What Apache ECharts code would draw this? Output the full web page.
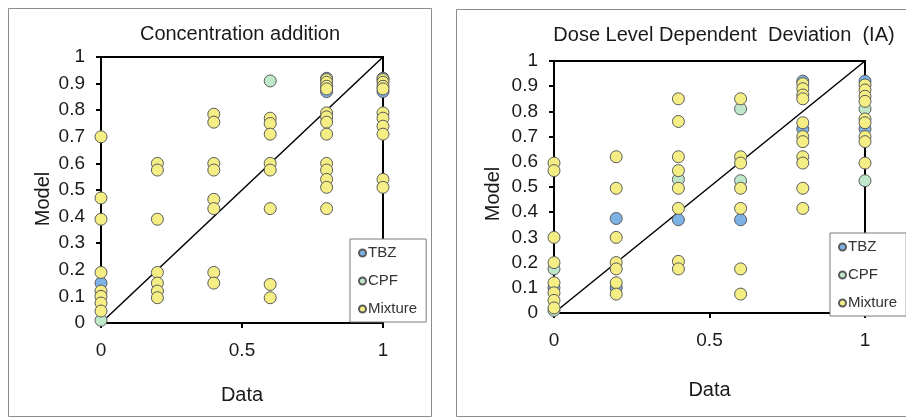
<!DOCTYPE html>
<html>
<head>
<meta charset="utf-8">
<script src="https://cdn.jsdelivr.net/npm/echarts@6/dist/echarts.min.js"></script>
<style>
  html, body { margin: 0; padding: 0; background: #fff; }
  #chart { width: 906px; height: 419px; }
</style>
</head>
<body>
<div id="chart"></div>
<script>
// --- data: [Data, Model] pairs ---
const seriesNames = ['TBZ', 'CPF', 'Mixture']
const xTicks = [0, 0.5, 1]

// Concentration addition (left panel)
const caTBZ = [[0, 0.15], [0.8, 0.92], [0.8, 0.87], [1, 0.92], [1, 0.87]]
const caCPF = [[0, 0.01], [0.6, 0.91]]
const caMixture = [
  [0, 0.70], [0, 0.47], [0, 0.39], [0, 0.19], [0, 0.12], [0, 0.10], [0, 0.075], [0, 0.045],
  [0.2, 0.60], [0.2, 0.575], [0.2, 0.39], [0.2, 0.19], [0.2, 0.15], [0.2, 0.12], [0.2, 0.095],
  [0.4, 0.785], [0.4, 0.755], [0.4, 0.60], [0.4, 0.575], [0.4, 0.465], [0.4, 0.43], [0.4, 0.19], [0.4, 0.15],
  [0.6, 0.77], [0.6, 0.75], [0.6, 0.71], [0.6, 0.60], [0.6, 0.575], [0.6, 0.43], [0.6, 0.145], [0.6, 0.095],
  [0.8, 0.915], [0.8, 0.905], [0.8, 0.89], [0.8, 0.88], [0.8, 0.79], [0.8, 0.775], [0.8, 0.755], [0.8, 0.71],
  [0.8, 0.60], [0.8, 0.575], [0.8, 0.54], [0.8, 0.51], [0.8, 0.43],
  [1, 0.915], [1, 0.905], [1, 0.89], [1, 0.88], [1, 0.79], [1, 0.77], [1, 0.74], [1, 0.71], [1, 0.54], [1, 0.51]
]

// Dose level dependent deviation (IA) (right panel)
const dlTBZ = [[0, 0.10], [0.2, 0.375], [0.2, 0.10], [0.4, 0.37], [0.6, 0.37], [0.8, 0.73], [0.8, 0.92], [1, 0.73], [1, 0.92]]
const dlCPF = [[0, 0.175], [0, 0.01], [0.4, 0.53], [0.6, 0.81], [0.6, 0.525], [1, 0.81], [1, 0.525]]
const dlMixture = [
  [0, 0.595], [0, 0.565], [0, 0.30], [0, 0.20], [0, 0.12], [0, 0.08], [0, 0.05], [0, 0.02],
  [0.2, 0.62], [0.2, 0.495], [0.2, 0.30], [0.2, 0.20], [0.2, 0.175], [0.2, 0.12], [0.2, 0.075],
  [0.4, 0.85], [0.4, 0.76], [0.4, 0.62], [0.4, 0.565], [0.4, 0.495], [0.4, 0.415], [0.4, 0.205], [0.4, 0.175],
  [0.6, 0.85], [0.6, 0.62], [0.6, 0.595], [0.6, 0.495], [0.6, 0.415], [0.6, 0.175], [0.6, 0.075],
  [0.8, 0.91], [0.8, 0.89], [0.8, 0.865], [0.8, 0.85], [0.8, 0.755], [0.8, 0.70], [0.8, 0.68],
  [0.8, 0.62], [0.8, 0.595], [0.8, 0.495], [0.8, 0.415],
  [1, 0.905], [1, 0.885], [1, 0.86], [1, 0.84], [1, 0.77], [1, 0.755], [1, 0.70], [1, 0.68], [1, 0.595]
]

const identity = [[0, 0], [1, 1]]

const FONT = '"Liberation Sans", Arial, sans-serif'
const TEXT = '#1a1a1a'
const colors = { TBZ: '#7db2e6', CPF: '#bfe8cb', Mixture: '#f4ee85' }

const chart = echarts.init(document.getElementById('chart'))

function xAxis(gridIndex, nameGap) {
  return {
    type: 'value', gridIndex, min: 0, max: 1, interval: 0.5,
    name: 'Data', nameLocation: 'middle', nameGap,
    nameTextStyle: { fontFamily: FONT, fontSize: 20, color: TEXT },
    axisLine: { lineStyle: { color: '#000', width: 2 } },
    axisTick: { length: 5, lineStyle: { color: '#000', width: 2 } },
    axisLabel: { margin: 18, fontFamily: FONT, fontSize: 19, color: TEXT,
      customValues: xTicks },
    splitLine: { show: false }
  }
}

function yAxis(gridIndex) {
  return {
    type: 'value', gridIndex, min: 0, max: 1, interval: 0.1,
    axisLine: { show: true, lineStyle: { color: '#000', width: 2 } },
    axisTick: { show: true, length: 5, lineStyle: { color: '#000', width: 2 } },
    axisLabel: { margin: 16, fontFamily: FONT, fontSize: 19, color: TEXT },
    splitLine: { show: false }
  }
}

function scatter(name, data, idx) {
  return {
    name, type: 'scatter', data, xAxisIndex: idx, yAxisIndex: idx,
    symbol: 'circle', symbolSize: 12,
    itemStyle: { color: colors[name], borderColor: '#5a5a5a', borderWidth: 1, opacity: 1 },
    emphasis: { disabled: true }
  }
}

function diagonal(idx) {
  return {
    type: 'line', data: identity, xAxisIndex: idx, yAxisIndex: idx,
    showSymbol: false, silent: true, z: 1,
    lineStyle: { color: '#000', width: 1.5 }
  }
}

function legend(left, top) {
  return {
    data: seriesNames, orient: 'vertical', left, top,
    backgroundColor: '#fff', borderColor: '#7a7a7a', borderWidth: 1,
    padding: [6, 9, 5, 8], itemWidth: 7, itemHeight: 7, itemGap: 12,
    icon: 'circle', selectedMode: false,
    textStyle: { fontFamily: FONT, fontSize: 15, lineHeight: 16, color: '#333', padding: [0, 0, 0, -3] }
  }
}

chart.setOption({
  animation: false,
  title: [
    { text: 'Concentration addition', left: 240, top: 24, textAlign: 'center', padding: 0,
      textStyle: { fontFamily: FONT, fontSize: 20, fontWeight: 'normal', color: TEXT } },
    { text: 'Dose Level Dependent  Deviation  (IA)', left: 724, top: 25, textAlign: 'center', padding: 0,
      textStyle: { fontFamily: FONT, fontSize: 20, fontWeight: 'normal', color: TEXT } }
  ],
  grid: [
    { left: 101, top: 57, width: 282, height: 266, show: true, borderColor: '#000', borderWidth: 2 },
    { left: 554, top: 61, width: 311, height: 252, show: true, borderColor: '#000', borderWidth: 2 }
  ],
  xAxis: [xAxis(0, 62), xAxis(1, 67)],
  yAxis: [yAxis(0), yAxis(1)],
  legend: [legend(350, 239), legend(830, 233)],
  series: [
    diagonal(0),
    scatter('TBZ', caTBZ, 0),
    scatter('CPF', caCPF, 0),
    scatter('Mixture', caMixture, 0),
    diagonal(1),
    scatter('TBZ', dlTBZ, 1),
    scatter('CPF', dlCPF, 1),
    scatter('Mixture', dlMixture, 1)
  ],
  graphic: [
    { type: 'rect', shape: { x: 8.5, y: 8.5, width: 423, height: 408 },
      style: { fill: 'none', stroke: '#8c8c8c', lineWidth: 1 }, silent: true },
    { type: 'rect', shape: { x: 456.5, y: 9.5, width: 460, height: 407 },
      style: { fill: 'none', stroke: '#8c8c8c', lineWidth: 1 }, silent: true },
    { type: 'text', x: 43, y: 199, rotation: Math.PI / 2, silent: true,
      style: { text: 'Model', font: '20px ' + FONT, fill: TEXT, textAlign: 'center', textVerticalAlign: 'middle' } },
    { type: 'text', x: 493, y: 194, rotation: Math.PI / 2, silent: true,
      style: { text: 'Model', font: '20px ' + FONT, fill: TEXT, textAlign: 'center', textVerticalAlign: 'middle' } }
  ]
})
</script>
</body>
</html>
